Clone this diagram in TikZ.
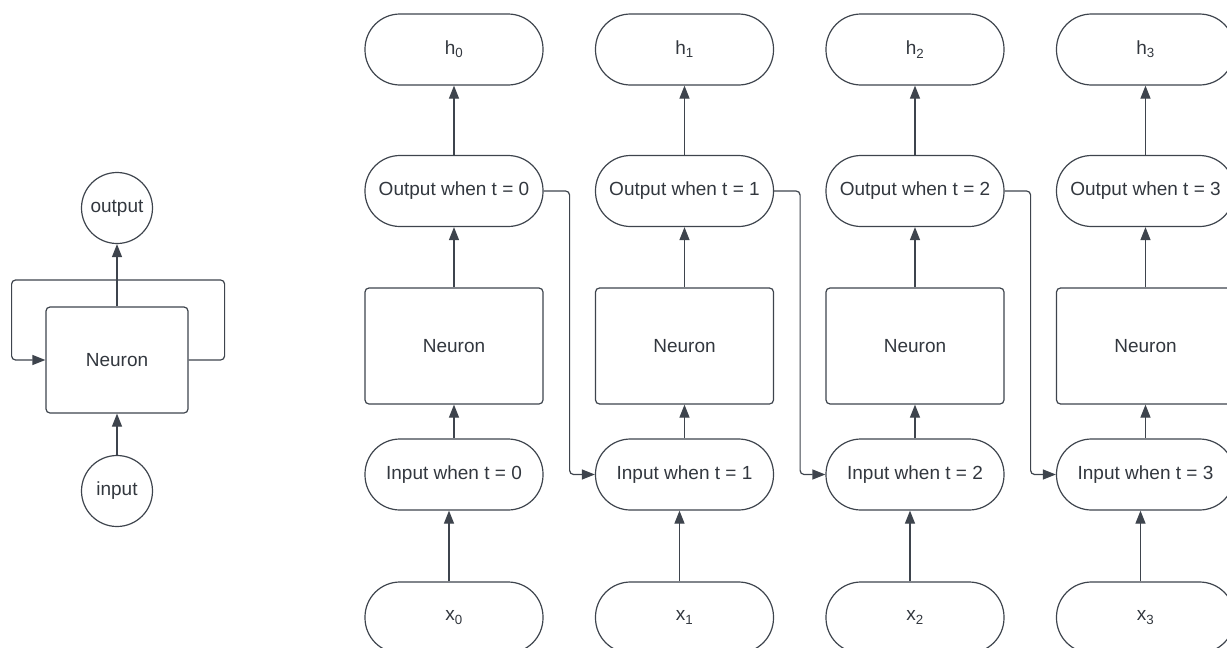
\documentclass[tikz,border=0pt]{standalone}
\usepackage{fontspec}
\setmainfont{Liberation Sans}
\usetikzlibrary{arrows.meta,calc}
\definecolor{ln}{RGB}{62,68,77}
\definecolor{tx}{RGB}{50,55,62}
\begin{document}
\begin{tikzpicture}[x=1pt,y=-1pt,
  every node/.style={text=tx, font=\fontsize{19}{23}\selectfont},
  pill/.style={draw=ln, line width=1.2pt, rounded corners=35pt, minimum width=178pt, minimum height=71pt, inner sep=0pt},
  nbox/.style={draw=ln, line width=1.2pt, rounded corners=4pt, minimum width=178pt, minimum height=116pt, inner sep=0pt},
  circ/.style={draw=ln, line width=1.2pt, circle, minimum size=71pt, inner sep=0pt},
  conn/.style={draw=ln, line width=1.2pt, -{Triangle[length=13pt,width=10pt]}, rounded corners=4pt}]
\useasboundingbox (0,0) rectangle (1227,648);
\clip (0,0) rectangle (1227,648);
% left: folded RNN
\node[circ] (out) at (117,208) {output};
\node[nbox, minimum width=142pt, minimum height=106pt] (neu) at (117,360) {Neuron};
\node[circ] (inp) at (117,491) {input};
\draw[conn] (inp) -- (neu);
\draw[conn] (neu) -- (out);
\draw[conn] (neu.east) -- ++(36,0) -- ++(0,-80) -- ++(-213,0) -- ++(0,80) -- (neu.west);
% right: unrolled
\foreach \i in {0,...,3} {
  \pgfmathsetmacro\cx{454+230.5*\i}
  \node[pill] (h\i) at (\cx,49.5) {h\textsubscript{\i}};
  \node[pill] (o\i) at (\cx,191) {Output when t = \i};
  \node[nbox] (n\i) at (\cx,346) {Neuron};
  \node[pill] (i\i) at (\cx,474.5) {Input when t = \i};
  \node[pill] (x\i) at (\cx,617.5) {x\textsubscript{\i}};
  \draw[conn] ([xshift=-5pt]x\i.north) -- ([xshift=-5pt]i\i.south);
  \draw[conn] (i\i) -- (n\i);
  \draw[conn] (n\i) -- (o\i);
  \draw[conn] (o\i) -- (h\i);
}
\foreach \i [evaluate=\i as \j using int(\i+1)] in {0,1,2}
  \draw[conn] (o\i.east) -- ++(26,0) |- (i\j.west);
\end{tikzpicture}
\end{document}
